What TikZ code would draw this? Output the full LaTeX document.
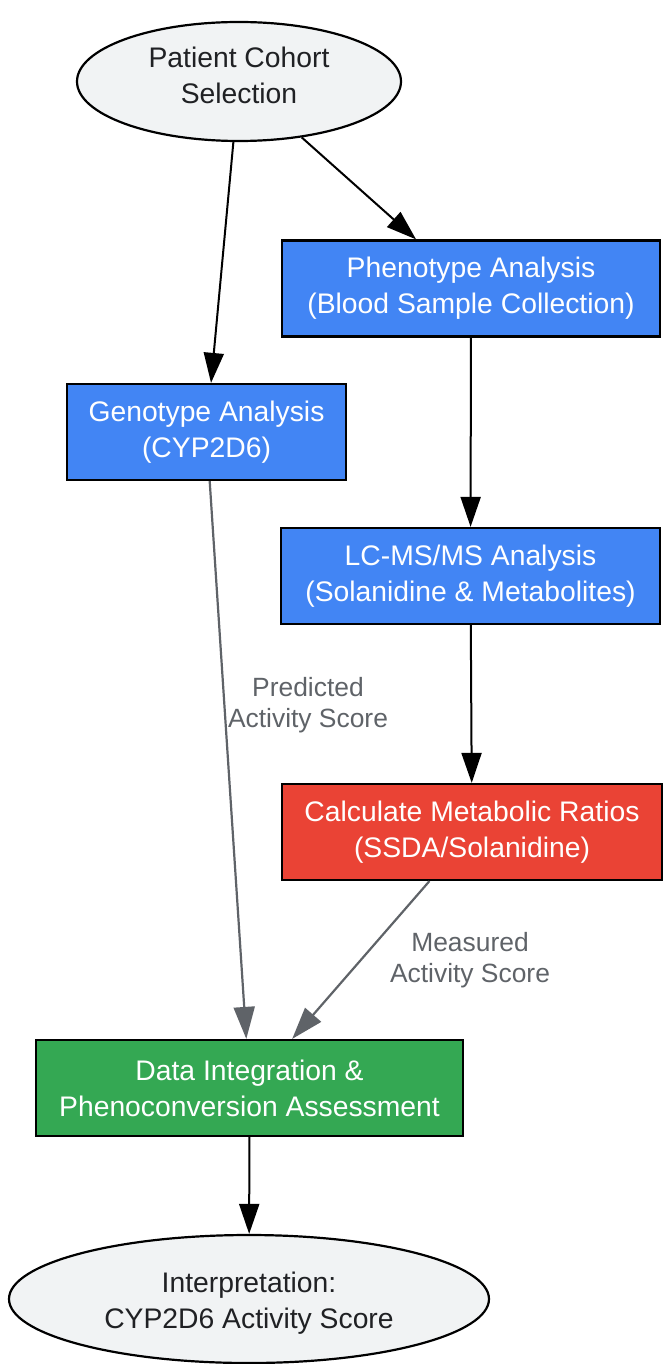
\documentclass[tikz,border=0pt]{standalone}
\usepackage{fontspec}
\setmainfont{Liberation Sans}
\usetikzlibrary{shapes.geometric,arrows.meta}
\definecolor{gblue}{HTML}{4285F4}
\definecolor{gred}{HTML}{EA4335}
\definecolor{ggreen}{HTML}{34A853}
\definecolor{glight}{HTML}{F1F3F4}
\definecolor{gdark}{HTML}{202124}
\definecolor{ggray}{HTML}{5F6368}
\tikzset{
  x=1pt, y=-1pt,
  base/.style={draw=black, line width=2.2pt, align=center, inner sep=0pt,
    font=\fontsize{28.3}{36}\selectfont},
  oval/.style={base, ellipse, fill=glight, text=gdark},
  boxnode/.style={base, rectangle, text=white, minimum height=96pt},
  flow/.style={line width=2pt, draw=black, -{Triangle[length=30pt,width=20pt]}},
  grayflow/.style={line width=2.2pt, draw=ggray, -{Triangle[length=32pt,width=21pt]}},
  elabel/.style={text=ggray, align=center, font=\fontsize{26.4}{31}\selectfont}
}
\begin{document}
\begin{tikzpicture}
\useasboundingbox (0,0) rectangle (662,1364);
\node[oval, minimum width=324pt, minimum height=119pt] (pat) at (239,81.5) {Patient Cohort\\Selection\rule[-12pt]{0pt}{0pt}};
\node[boxnode, fill=gblue, minimum width=378pt] (pheno) at (471,288.5) {Phenotype Analysis\\(Blood Sample Collection)};
\node[boxnode, fill=gblue, minimum width=279pt] (geno) at (206.5,432) {Genotype Analysis\\(CYP2D6)};
\node[boxnode, fill=gblue, minimum width=379pt] (lcms) at (470.5,576) {LC-MS/MS Analysis\\(Solanidine \& Metabolites)};
\node[boxnode, fill=gred, minimum width=380pt] (calc) at (472,832) {Calculate Metabolic Ratios\\(SSDA/Solanidine)};
\node[boxnode, fill=ggreen, minimum width=427pt] (data) at (249.5,1088) {Data Integration \&\\Phenoconversion Assessment};
\node[oval, minimum width=480pt, minimum height=128pt] (interp) at (249,1299) {\rule{0pt}{28.5pt}Interpretation:\\CYP2D6 Activity Score};

\draw[flow] (pat) -- (geno);
\draw[flow] (pat) -- (pheno);
\draw[flow] (pheno) -- (lcms);
\draw[flow] (lcms) -- (calc);
\draw[grayflow] (geno) -- (data);
\draw[grayflow] (calc) -- (data);
\draw[flow] (data) -- (interp);

\node[elabel] (lpred) at (308,705) {Predicted\\Activity Score};
\node[elabel] (lmeas) at (470,960) {Measured\\Activity Score};
\end{tikzpicture}
\end{document}
